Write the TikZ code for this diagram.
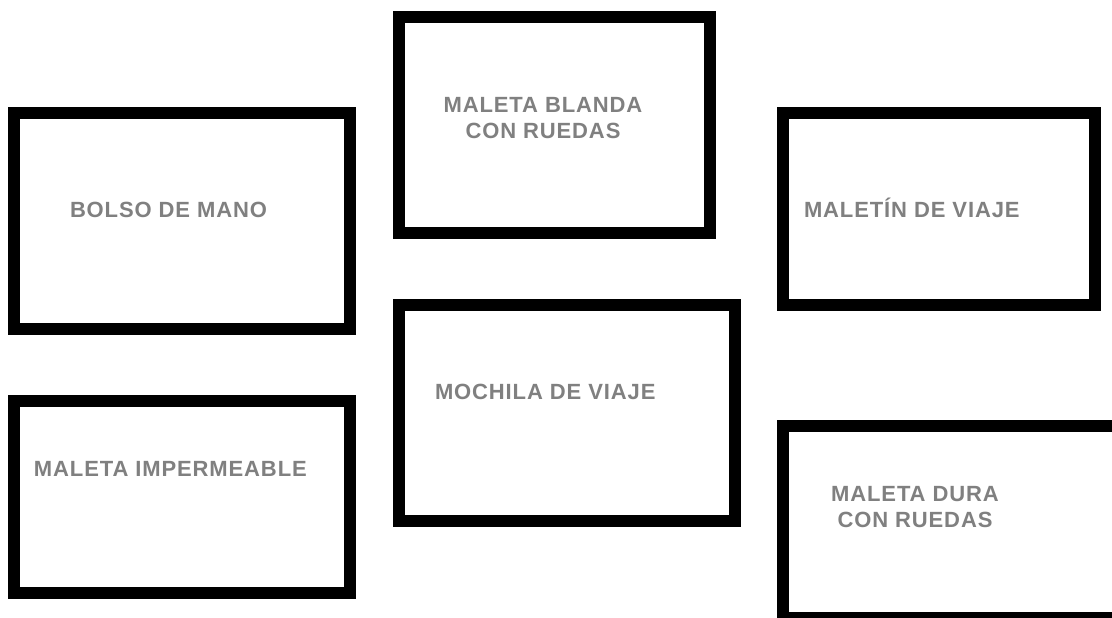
\documentclass[tikz,border=0pt]{standalone}
\usepackage{fontspec}
\setmainfont{Liberation Sans}
\definecolor{labelgray}{RGB}{128,128,128}
\begin{document}
\begin{tikzpicture}[x=1pt,y=-1pt,
  frame/.style={draw=black,line width=12pt,rectangle,inner sep=0pt,outer sep=0pt,fill=white},
  lbl/.style={text=labelgray,inner sep=0pt,outer sep=0pt,font=\fontsize{22}{26}\selectfont\bfseries\addfontfeatures{LetterSpace=4}}]
\useasboundingbox[fill=white] (0,0) rectangle (1112,618);
\node[frame,minimum width=336pt,minimum height=216pt] (bolso) at (182,221) {};
\node[frame,minimum width=311pt,minimum height=216pt] (blanda) at (554.3,125) {};
\node[frame,minimum width=312pt,minimum height=192pt] (maletin) at (939,209.4) {};
\node[frame,minimum width=335.5pt,minimum height=192pt] (imper) at (182.2,497.4) {};
\node[frame,minimum width=336pt,minimum height=216pt] (mochila) at (566.7,413.3) {};
\node[frame,minimum width=336pt,minimum height=192pt] (dura) at (951,521.5) {};
\node[lbl,anchor=base west] (tbolso) at (70,217) {BOLSO DE MANO};
\node[lbl,anchor=base west] (tmaletin) at (804,217.3) {MALETÍN DE VIAJE};
\node[lbl,anchor=base west] (timper) at (34,476.7) {MALETA IMPERMEABLE};
\node[lbl,anchor=base west] (tmochila) at (435,399) {MOCHILA DE VIAJE};
\node[lbl,anchor=base,align=center] (tblanda) at (543,139) {MALETA BLANDA\\CON RUEDAS};
\node[lbl,anchor=base,align=center] (tdura) at (915,527.7) {MALETA DURA\\CON RUEDAS};
\end{tikzpicture}
\end{document}
